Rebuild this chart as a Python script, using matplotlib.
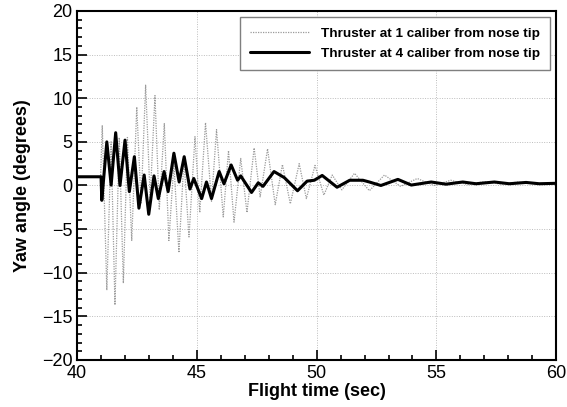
import matplotlib
matplotlib.use("Agg")
import matplotlib.pyplot as plt
from matplotlib.ticker import MultipleLocator

plt.rcParams['font.family'] = ['Liberation Sans', 'DejaVu Sans']

# Thruster at 1 caliber from nose tip (turning points)
t1 = [40.0, 40.98, 41.05, 41.24, 41.42, 41.58, 41.76, 41.93, 42.10, 42.28,
      42.49, 42.67, 42.86, 43.05, 43.25, 43.43, 43.64, 43.83, 44.04, 44.25,
      44.46, 44.67, 44.92, 45.12, 45.36, 45.61, 45.82, 46.10, 46.32, 46.55,
      46.83, 47.09, 47.39, 47.64, 47.95, 48.27, 48.57, 48.90, 49.27, 49.57,
      49.93, 50.30, 50.65, 51.05, 51.58, 52.20, 52.83, 53.50, 54.20, 54.90,
      55.60, 56.30, 57.00, 57.70, 58.40, 59.10, 60.0]
y1 = [1.0, 1.0, 6.9, -12.0, 5.0, -13.7, 5.5, -11.2, 5.5, -6.3,
      9.0, -2.0, 11.5, -1.5, 10.3, -2.8, 7.1, -6.3, 2.5, -7.7,
      3.0, -5.9, 5.6, -3.1, 7.2, -1.8, 6.4, -3.6, 4.0, -4.2,
      3.1, -3.1, 4.3, -1.3, 4.2, -2.2, 2.4, -2.1, 2.5, -1.5,
      2.3, -1.1, 1.2, -0.5, 1.4, -0.6, 1.2, -0.1, 0.8, 0.0,
      0.6, 0.1, 0.45, 0.15, 0.4, 0.2, 0.3]

# Thruster at 4 caliber from nose tip
t4 = [40.0, 41.0, 41.03, 41.24, 41.42, 41.61, 41.79, 42.00, 42.18, 42.39,
      42.58, 42.80, 42.99, 43.21, 43.39, 43.63, 43.80, 44.04, 44.26, 44.47,
      44.71, 44.87, 45.20, 45.40, 45.61, 45.93, 46.13, 46.43, 46.70, 46.83,
      47.28, 47.56, 47.76, 48.22, 48.65, 49.20, 49.60, 49.90, 50.23, 50.85,
      51.38, 51.93, 52.20, 52.68, 53.39, 53.95, 54.78, 55.40, 56.10, 56.65,
      57.42, 58.04, 58.74, 59.29, 60.0]
y4 = [1.0, 1.0, -1.7, 5.0, 0.05, 6.05, 0.0, 5.2, -0.7, 3.3,
      -2.6, 1.2, -3.3, 1.1, -1.5, 1.6, -0.7, 3.7, 0.4, 3.3,
      -0.4, 0.8, -1.5, 0.4, -1.5, 1.6, 0.2, 2.35, 0.6, 1.1,
      -0.8, 0.3, -0.1, 1.6, 0.9, -0.6, 0.5, 0.6, 1.15, -0.2,
      0.6, 0.6, 0.4, 0.0, 0.7, 0.05, 0.4, 0.15, 0.4, 0.2,
      0.4, 0.2, 0.35, 0.2, 0.25]

labels = ["Thruster at 1 caliber from nose tip", "Thruster at 4 caliber from nose tip"]

fig = plt.figure(figsize=(5.67, 4.07), dpi=100)
ax = fig.add_axes([0.136, 0.1155, 0.845, 0.8575])

ax.plot(t1, y1, color='#9a9a9a', lw=0.9, linestyle=(0, (1, 1)), label=labels[0], zorder=3)
ax.plot(t4, y4, color='black', lw=2.2, label=labels[1], zorder=4,
        solid_joinstyle='round', solid_capstyle='round')

ax.set_xlim(40, 60)
ax.set_ylim(-20, 20)
ax.xaxis.set_major_locator(MultipleLocator(5))
ax.xaxis.set_minor_locator(MultipleLocator(1))
ax.yaxis.set_major_locator(MultipleLocator(5))
ax.yaxis.set_minor_locator(MultipleLocator(1))
ax.tick_params(which='both', direction='in', top=False, right=False, labelsize=13, width=1.2)
ax.tick_params(which='major', length=7)
ax.tick_params(which='minor', length=3.5)
ax.grid(True, which='major', color='#bdbdbd', linestyle=(0, (1, 1.5)), lw=0.7)
for s in ax.spines.values():
    s.set_linewidth(1.5)

ax.set_xlabel("Flight time (sec)", fontsize=13, fontweight='bold', labelpad=1)
ax.set_ylabel("Yaw angle (degrees)", fontsize=13, fontweight='bold', labelpad=8)

leg = ax.legend(loc='upper right', prop={'weight': 'bold', 'size': 9.7},
                handlelength=4.4, frameon=True, fancybox=False, edgecolor='#7f7f7f',
                framealpha=1, borderaxespad=0.45, borderpad=0.75, labelspacing=0.6,
                handletextpad=0.9)
leg.get_frame().set_linewidth(1.0)

fig.savefig("out.png", dpi=100)
